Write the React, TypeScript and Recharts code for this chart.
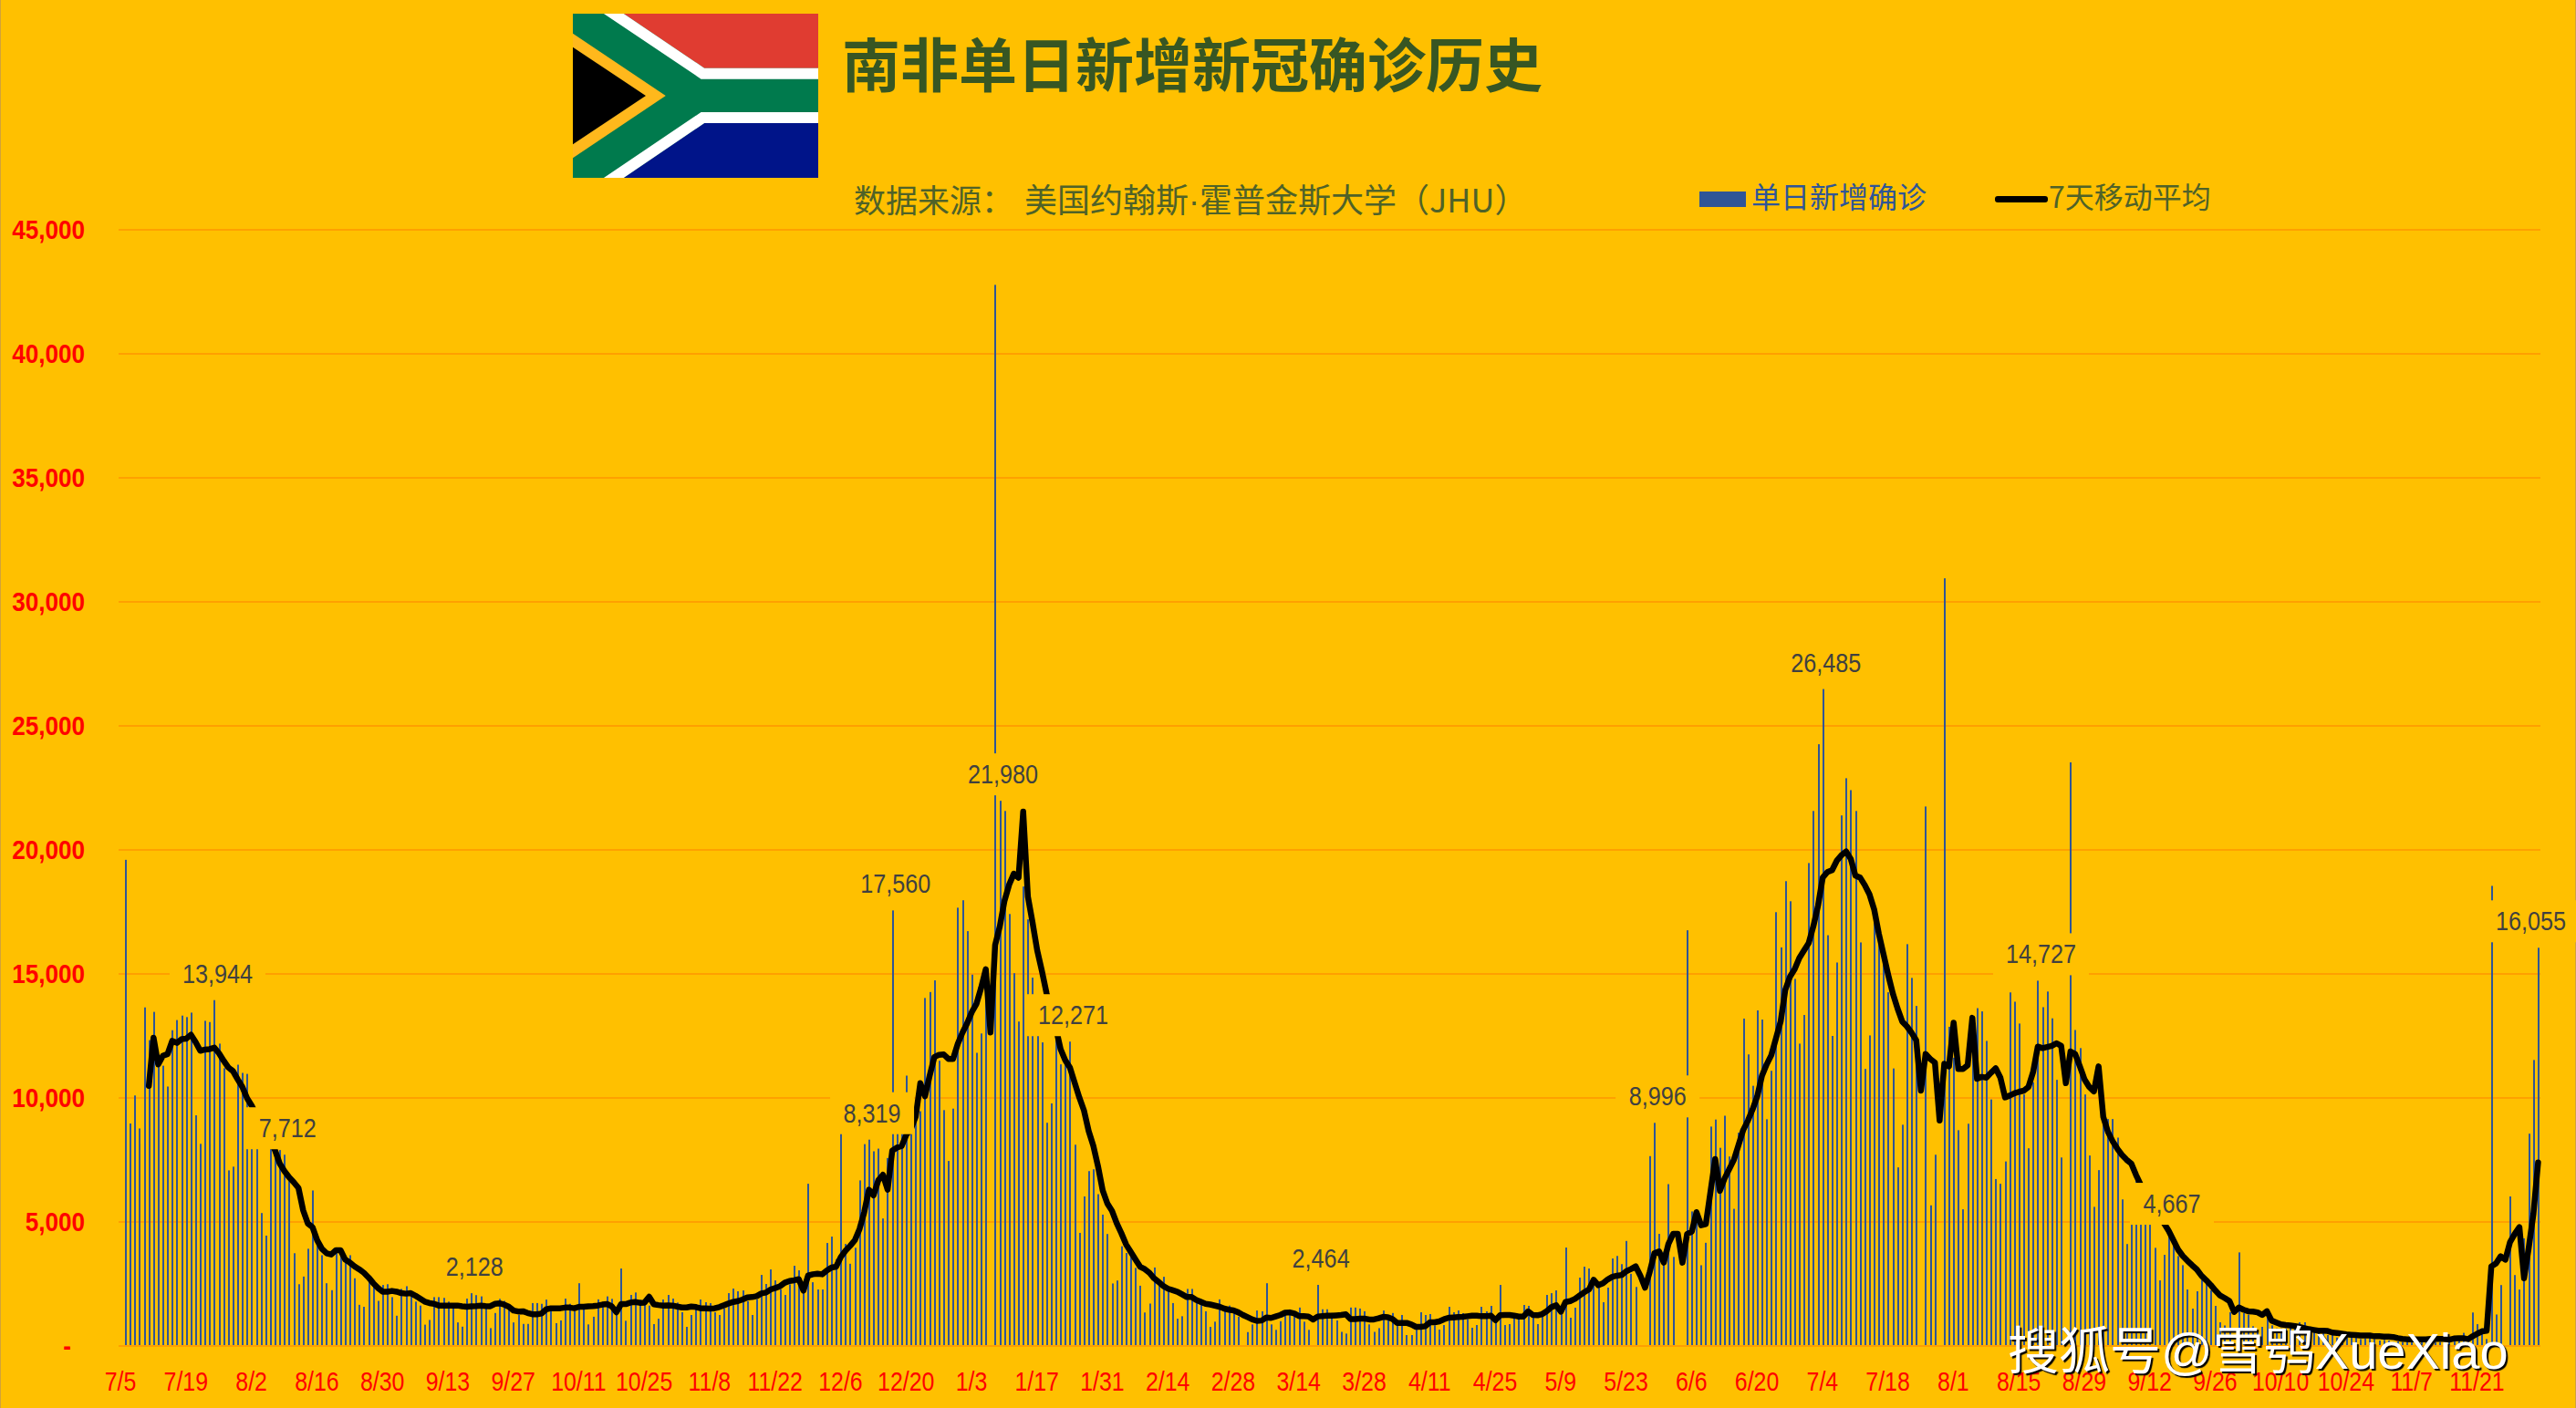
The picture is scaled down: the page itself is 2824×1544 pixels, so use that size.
import React from 'react';
import { ComposedChart, Bar, Line, XAxis, YAxis, CartesianGrid, LabelList } from 'recharts';

const firstDay = Date.UTC(2020, 6, 5);

const dailyCases = [
  19600, 8970, 10100, 8770, 13650, 12330, 13470, 11350, 11300, 10460,
  12730, 13140, 13320, 13260, 13440, 9300, 8150, 13110, 13060, 13944,
  12190, 11200, 7080, 7230, 11340, 11010, 10970, 8200, 8300, 5360,
  4450, 8100, 7730, 7900, 7712, 6650, 3740, 2490, 2800, 3920,
  6270, 4100, 3660, 2530, 2250, 3810, 3700, 3440, 3660, 2730,
  1660, 1580, 2680, 2460, 1820, 2460, 2490, 1970, 1220, 2300,
  2410, 2030, 1790, 1630, 860, 1050, 1970, 1970, 1940, 1790,
  1550, 950, 780, 1910, 2128, 2050, 2000, 1550, 720, 1330,
  1900, 1820, 1630, 950, 1250, 890, 890, 1730, 1730, 1700,
  1870, 1400, 920, 1030, 1910, 1700, 1400, 2530, 1480, 870,
  1180, 1880, 1700, 2000, 1900, 1400, 3124, 1017, 2058, 2156,
  1862, 1690, 1630, 882, 1100, 1874, 2058, 1911, 1750, 1360,
  772, 1250, 1690, 1874, 1764, 1727, 1360, 1250, 1507, 2130,
  2315, 2205, 2240, 1810, 1250, 1874, 2866, 2500, 3087, 2646,
  2278, 2058, 2487, 3234, 3050, 2200, 6540, 2570, 2278, 2278,
  4153, 4410, 3500, 8700, 4114, 3315, 3960, 6676, 8138, 8319,
  7850, 7957, 5140, 7580, 17560, 8700, 8800, 10900, 9390, 9090,
  9465, 14030, 14270, 14740, 11500, 9510, 7460, 9570, 17670, 17970,
  16725, 14970, 11820, 12600, 14000, 0, 42780, 21980, 21570, 17415,
  15030, 13080, 18525, 17200, 14850, 12600, 12240, 9000, 9780, 12540,
  11355, 11445, 12271, 8115, 4560, 6030, 7050, 7125, 6120, 5295,
  4515, 2520, 2640, 4020, 3750, 3600, 3150, 2430, 1350, 1710,
  3165, 2460, 2790, 2230, 1730, 1100, 1200, 2300, 2300, 1930,
  1700, 1400, 770, 980, 1880, 1400, 1630, 1330, 1180, 0,
  560, 870, 1430, 1400, 2530, 870, 650, 1000, 1280, 1330,
  1370, 1550, 980, 650, 0, 2464, 1480, 1480, 1330, 1030,
  570, 500, 1550, 1550, 1510, 1400, 870, 570, 720, 1430,
  1250, 1330, 870, 1250, 441, 441, 772, 1360, 1250, 1286,
  833, 660, 845, 1580, 1360, 1433, 1323, 1078, 735, 845,
  1580, 1396, 1617, 1080, 2462, 845, 882, 1140, 1080, 1654,
  1617, 1140, 882, 1176, 2058, 2130, 2242, 1320, 3969, 1140,
  1543, 2756, 3197, 3124, 2425, 2352, 1764, 2352, 3528, 3630,
  3300, 4235, 2910, 2380, 0, 0, 7655, 8996, 4520, 3800,
  6525, 3590, 0, 0, 16760, 5425, 5300, 3255, 4160, 8846,
  9130, 7990, 9283, 7640, 5530, 8600, 13200, 11755, 10490, 13530,
  13160, 9140, 11096, 17490, 16070, 18740, 17930, 14800, 12190, 13345,
  19470, 21570, 24260, 26485, 16560, 12500, 15460, 21390, 22890, 22410,
  21570, 16270, 11170, 12520, 17550, 16450, 15700, 14260, 11190, 7200,
  8920, 16200, 14840, 13710, 0, 21750, 5670, 7710, 0, 30950,
  12870, 11620, 8700, 5510, 8960, 13190, 13620, 13490, 12300, 9940,
  6730, 6540, 7440, 14255, 13880, 13000, 10140, 7970, 10630, 14727,
  13660, 14290, 13210, 10730, 7600, 0, 23530, 12740, 12010, 10140,
  7680, 5610, 7090, 9250, 9150, 9150, 8400, 5910, 4110, 4970,
  6900, 5100, 5050, 5000, 3957, 2646, 3675, 4667, 4263, 3626,
  3258, 2278, 1507, 2205, 2670, 2548, 2242, 1617, 955, 830,
  1360, 0, 3773, 1323, 1262, 796, 588, 772, 1200, 833,
  710, 710, 710, 833, 772, 955, 955, 650, 590, 590,
  530, 440, 530, 340, 340, 340, 400, 340, 280, 305,
  340, 280, 220, 245, 220, 160, 180, 160, 180, 160,
  160, 220, 160, 160, 160, 160, 160, 160, 220, 280,
  530, 340, 1350, 880, 710, 280, 18550, 1270, 2456, 0,
  6030, 2860, 2275, 4340, 8560, 11530, 16055,
];

const movingAvg = [
  null, null, null, null, null, 10490, 12430, 11350, 11700, 11770,
  12300, 12220, 12370, 12390, 12550, 12250, 11900, 11950, 11970, 12030,
  11800, 11500, 11230, 11080, 10750, 10440, 9990, 9690, 9300, 8900,
  8600, 8300, 7880, 7350, 7050, 6800, 6600, 6370, 5470, 4940,
  4790, 4260, 3920, 3740, 3690, 3860, 3860, 3480, 3360, 3210,
  3090, 2950, 2760, 2530, 2340, 2190, 2190, 2220, 2190, 2130,
  2110, 2130, 2030, 1910, 1790, 1730, 1700, 1630, 1630, 1630,
  1630, 1630, 1600, 1580, 1600, 1610, 1630, 1610, 1600, 1700,
  1720, 1670, 1580, 1430, 1390, 1400, 1330, 1280, 1280, 1310,
  1480, 1520, 1520, 1520, 1550, 1550, 1520, 1580, 1580, 1600,
  1610, 1630, 1670, 1690, 1600, 1360, 1690, 1690, 1750, 1776,
  1740, 1750, 1985, 1680, 1650, 1630, 1640, 1630, 1590, 1555,
  1555, 1590, 1570, 1520, 1520, 1510, 1520, 1570, 1640, 1715,
  1776, 1810, 1875, 1960, 1972, 2010, 2120, 2156, 2280, 2340,
  2410, 2550, 2620, 2650, 2695, 2230, 2840, 2890, 2915, 2890,
  3040, 3160, 3200, 3590, 3840, 4040, 4265, 4717, 5395, 6300,
  6073, 6676, 6902, 6300, 7880, 8000, 8060, 8515, 8755, 9240,
  10595, 10070, 10900, 11650, 11740, 11755, 11575, 11575, 12180, 12630,
  13005, 13460, 13790, 14440, 15190, 12640, 16170, 16920, 17950, 18600,
  19040, 18880, 21540, 18120, 17070, 15945, 15120, 14220, 13500, 12800,
  11970, 11520, 11220, 10620, 10020, 9495, 8670, 8070, 7245, 6270,
  5745, 5445, 4950, 4545, 4095, 3795, 3495, 3195, 3100, 2950,
  2728, 2577, 2411, 2306, 2245, 2185, 2080, 1974, 1974, 1854,
  1778, 1703, 1673, 1628, 1582, 1507, 1462, 1432, 1356, 1251,
  1160, 1070, 1010, 1025, 1145, 1130, 1190, 1250, 1341, 1356,
  1311, 1205, 1205, 1190, 1070, 1190, 1205, 1220, 1220, 1235,
  1250, 1280, 1085, 1085, 1100, 1100, 1070, 1070, 1115, 1175,
  1160, 1085, 931, 931, 931, 870, 772, 772, 796, 955,
  955, 992, 1078, 1139, 1151, 1163, 1176, 1200, 1225, 1225,
  1200, 1200, 1225, 1041, 1237, 1250, 1250, 1225, 1188, 1188,
  1396, 1250, 1237, 1286, 1409, 1568, 1641, 1384, 1776, 1813,
  1899, 2033, 2168, 2278, 2670, 2450, 2530, 2682, 2788, 2833,
  2863, 3014, 3104, 3210, 2833, 2350, 2984, 3737, 3813, 3360,
  4114, 4520, 4520, 3360, 4520, 4611, 5395, 4868, 4913, 6224,
  7535, 6254, 6751, 7128, 7505, 8108, 8710, 9087, 9539, 10067,
  10895, 11348, 11724, 12403, 13081, 14362, 14889, 15190, 15643, 15944,
  16245, 16923, 17752, 18883, 19109, 19184, 19561, 19787, 19938, 19636,
  18958, 18883, 18581, 18205, 17602, 16622, 15794, 14965, 14211, 13608,
  13081, 12885, 12629, 12327, 10293, 11770, 11574, 11423, 9087, 11378,
  11272, 13036, 11167, 11167, 11318, 13231, 10775, 10850, 10820, 11016,
  11197, 10820, 10022, 10097, 10187, 10248, 10293, 10444, 11046, 12071,
  12011, 12056, 12101, 12207, 12101, 10594, 11875, 11770, 11272, 10745,
  10444, 10263, 11272, 9238, 8635, 8258, 7957, 7701, 7505, 7354,
  6902, 6500, 6200, 5900, 5500, 5200, 4943, 4642, 4265, 3888,
  3632, 3436, 3255, 3089, 2833, 2652, 2456, 2230, 2034, 1929,
  1808, 1371, 1552, 1462, 1401, 1386, 1356, 1251, 1401, 1025,
  949, 874, 844, 829, 799, 769, 723, 678, 648, 618,
  618, 603, 543, 528, 497, 467, 452, 437, 422, 422,
  422, 392, 392, 377, 377, 362, 316, 286, 271, 271,
  271, 271, 271, 286, 286, 286, 286, 256, 301, 316,
  316, 271, 392, 497, 588, 618, 3210, 3330, 3617, 3481,
  4190, 4521, 4792, 2728, 3963, 5320, 7400,
];

// days that carry a value label in the original
const calloutDays = [19, 34, 74, 159, 164, 187, 202, 255, 327, 363, 409, 437, 516];
const yTicks = [0, 5000, 10000, 15000, 20000, 25000, 30000, 35000, 40000, 45000];

const dayLabels = dailyCases.map((_, i) => {
  const d = new Date(firstDay + i * 86400000);
  return `${d.getUTCMonth() + 1}/${d.getUTCDate()}`;
});

const chartData = dailyCases.map((daily, i) => ({
  day: dayLabels[i],
  daily,
  avg: movingAvg[i],
  callout: calloutDays.includes(i) ? daily : null,
}));

const latin = '"Liberation Sans", Arial, sans-serif';
const cjk = '"Noto Sans CJK SC", sans-serif';
const BG = '#FFC000';

// the original's numbers are a narrow Arial, there is no narrow face here so squeeze it
const Squeezed = ({ x, y, squeeze = 0.84, children, ...rest }: any) => (
  <text transform={`translate(${x} ${y}) scale(${squeeze} 1)`} fontSize={30} fontFamily={latin} {...rest}>
    {children}
  </text>
);

const XTick = ({ x, y, payload }: any) => (
  <Squeezed x={x - 5.5} y={y + 49} squeeze={0.83} textAnchor="middle" fill="#FF0000">
    {payload.value}
  </Squeezed>
);

const YTick = ({ x, y, payload }: any) => (
  <Squeezed x={payload.value === 0 ? x - 15 : x} y={y + 10} squeeze={0.87} textAnchor="end" fill="#FF0000" fontWeight={700}>
    {payload.value === 0 ? '-' : payload.value.toLocaleString('en-US')}
  </Squeezed>
);

// snap to whole pixels, otherwise the 2px bars smear over 3 columns and look grey
const DayBar = ({ x, y, height, fill }: any) =>
  height > 0 ? <rect x={Math.round(x)} y={y} width={2} height={height} fill={fill} /> : null;

const Callout = ({ x, y, value, index }: any) => {
  if (value == null || y == null) return null;
  const text = Number(value).toLocaleString('en-US');
  const w = text.length > 5 ? 105 : 92;
  const cx = x + (index === 516 ? -8 : 3.5);
  const cy = y - 29;
  return (
    <g>
      <rect x={cx - w / 2} y={cy - 23} width={w} height={46} fill={BG} />
      <Squeezed x={cx} y={cy + 10} textAnchor="middle" fill="#404040">
        {text}
      </Squeezed>
    </g>
  );
};

const Flag = () => (
  <svg
    viewBox="56 45 222 540"
    preserveAspectRatio="none"
    width={269}
    height={180}
    style={{ position: 'absolute', left: 628, top: 15 }}
  >
    <rect x={56} y={45} width={222} height={540} fill="#007A4D" />
    <polygon points="102,45 278,45 278,224 175,224" fill="#E03C31" />
    <polygon points="175,405 278,405 278,585 102,585" fill="#001489" />
    <polygon points="84,45 102,45 175,224 278,224 278,260 172,260" fill="#FFFFFF" />
    <polygon points="172,369 278,369 278,405 175,405 102,585 84,585" fill="#FFFFFF" />
    <polygon points="56,110 140,315 56,520" fill="#FFB81C" />
    <polygon points="56,155 122,315 56,475" fill="#000000" />
  </svg>
);

const App = () => {
  return (
    <div
      style={{
        position: 'absolute',
        left: 0,
        top: 0,
        width: 2824,
        height: 1544,
        background: BG,
        overflow: 'hidden',
        boxShadow: 'inset 1px 0 0 #D2A23A, inset -1px 0 0 #D2A23A',
      }}
    >
      <ComposedChart
        width={2824}
        height={1544}
        data={chartData}
        margin={{ top: 252, right: 39, bottom: 0, left: 0 }}
        barCategoryGap={0}
      >
        <CartesianGrid vertical={false} stroke="#FFA000" strokeWidth={2} />
        <XAxis
          dataKey="day"
          interval={13}
          height={68}
          padding={{ left: 5, right: 0 }}
          tick={<XTick />}
          tickLine={false}
          tickSize={0}
          tickMargin={0}
          axisLine={{ stroke: '#FFA000', strokeWidth: 2 }}
        />
        <YAxis
          width={130}
          domain={[0, 45000]}
          ticks={yTicks}
          interval={0}
          tick={<YTick />}
          tickLine={false}
          tickSize={0}
          tickMargin={37}
          axisLine={false}
        />
        <Bar
          dataKey="daily"
          name="单日新增确诊"
          fill="#2F5597"
          barSize={2}
          shape={<DayBar />}
          isAnimationActive={false}
        />
        <Line
          dataKey="avg"
          name="7天移动平均"
          stroke="#000000"
          strokeWidth={6.5}
          strokeLinejoin="round"
          strokeLinecap="round"
          dot={false}
          isAnimationActive={false}
        />
        <Line dataKey="callout" stroke="none" dot={false} legendType="none" isAnimationActive={false}>
          <LabelList dataKey="callout" content={<Callout />} />
        </Line>
      </ComposedChart>

      <Flag />
      <div style={{ position: 'absolute', left: 923, top: 19, fontFamily: cjk, fontWeight: 700, fontSize: 64, lineHeight: '96px', color: '#375623', whiteSpace: 'nowrap' }}>
        南非单日新增新冠确诊历史
      </div>
      <div style={{ position: 'absolute', left: 936, top: 190, fontFamily: cjk, fontSize: 35, lineHeight: '54px', color: '#4F6228', whiteSpace: 'nowrap' }}>
        数据来源：
        <span style={{ marginLeft: 12, fontSize: 36 }}>
          美国约翰斯<span style={{ fontFamily: latin }}>·</span>霍普金斯大学（JHU）
        </span>
      </div>

      <div style={{ position: 'absolute', left: 1863, top: 210, width: 51, height: 17, background: '#2F5597' }} />
      <div style={{ position: 'absolute', left: 1920, top: 190, fontFamily: cjk, fontSize: 32, lineHeight: '48px', color: '#2F5597', whiteSpace: 'nowrap' }}>
        单日新增确诊
      </div>
      <div style={{ position: 'absolute', left: 2187, top: 215, width: 58, height: 7, borderRadius: 3, background: '#000000' }} />
      <div style={{ position: 'absolute', left: 2246, top: 190, fontFamily: cjk, fontSize: 32, lineHeight: '48px', color: '#4F6228', whiteSpace: 'nowrap' }}>
        7天移动平均
      </div>

      <div
        style={{
          position: 'absolute',
          left: 2201,
          top: 1440,
          fontFamily: '"Liberation Sans", "Noto Sans CJK SC", sans-serif',
          fontSize: 56,
          lineHeight: '84px',
          color: '#FFFFFF',
          textShadow: '2px 2px 1px #000000',
          whiteSpace: 'nowrap',
        }}
      >
        搜狐号@雪鸮XueXiao
      </div>
    </div>
  );
};

export default App;
